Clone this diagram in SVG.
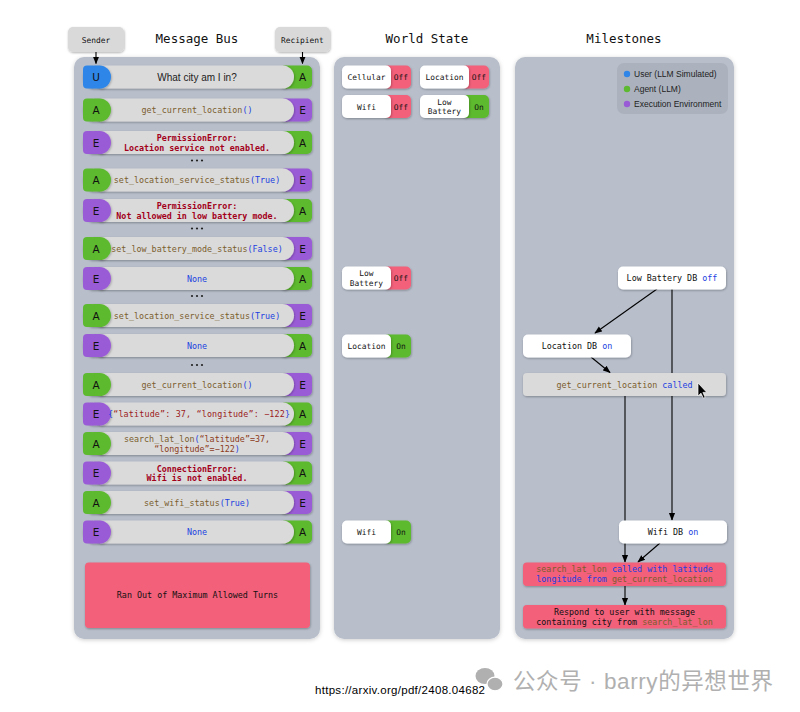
<svg xmlns="http://www.w3.org/2000/svg" width="800" height="712" viewBox="0 0 800 712">
<defs>
<filter id="sh" x="-10%" y="-20%" width="120%" height="150%"><feDropShadow dx="0.5" dy="1" stdDeviation="1" flood-color="#000" flood-opacity="0.3"/></filter>
<filter id="psh" x="-5%" y="-5%" width="110%" height="110%"><feDropShadow dx="0" dy="1" stdDeviation="2" flood-color="#000" flood-opacity="0.2"/></filter>
<marker id="ah" viewBox="0 0 10 10" refX="9" refY="5" markerWidth="7" markerHeight="7" orient="auto-start-reverse"><path d="M0,1 L10,5 L0,9 Z" fill="#000"/></marker>
</defs>
<style>
.mono{font-family:"DejaVu Sans Mono","Liberation Mono",monospace}
.sans{font-family:"Liberation Sans","DejaVu Sans",sans-serif}
.title{font-family:"DejaVu Sans Mono","Liberation Mono",monospace;font-size:12.5px;fill:#111;text-anchor:middle}
.panel{fill:#b8bfcb}
.pill{fill:#dadada}
.cU{fill:#2f86e8}.cA{fill:#5db92f}.cE{fill:#9a5bd6}
.badge{font-family:"DejaVu Sans","Liberation Sans",sans-serif;font-size:10.5px;fill:#111;text-anchor:middle}
.code{font-family:"DejaVu Sans Mono","Liberation Mono",monospace;font-size:8.4px;text-anchor:middle}
.fn{fill:#7b5e2e}.bl{fill:#1b3fe0}.err{fill:#a3001b;font-weight:bold}.dr{fill:#9b1b1b}.ag{fill:#8b3a1a}
.tg{font-family:"DejaVu Sans Mono","Liberation Mono",monospace;font-size:7.9px;fill:#111;text-anchor:middle}
.off{fill:#f2607a}.on{fill:#5db92f}
.ms{font-family:"DejaVu Sans Mono","Liberation Mono",monospace;font-size:8.4px;fill:#111;text-anchor:middle}
.wbox{fill:#fff}
.conn{stroke:#000;stroke-width:1.1;fill:none}
.dot{fill:#222}
</style>
<rect width="800" height="712" fill="#fff"/>

<!-- titles -->
<text class="title" x="197" y="43">Message Bus</text>
<text class="title" x="427" y="43">World State</text>
<text class="title" x="624" y="43">Milestones</text>

<!-- panels -->
<rect class="panel" x="74" y="57" width="246" height="582" rx="10" filter="url(#psh)"/>
<rect class="panel" x="334" y="57" width="166" height="582" rx="10" filter="url(#psh)"/>
<rect class="panel" x="515" y="57" width="219" height="582" rx="10" filter="url(#psh)"/>

<!-- sender / recipient -->
<g id="sender">
<rect x="68" y="27" width="56" height="25" rx="5" fill="#d9d9d9" filter="url(#sh)"/>
<text class="tg" x="96" y="42.5">Sender</text>
</g>
<g id="recipient">
<rect x="275" y="27" width="55" height="25" rx="5" fill="#d9d9d9" filter="url(#sh)"/>
<text class="tg" x="302.5" y="42.5">Recipient</text>
</g>

<!-- message rows -->
<g id="row1" transform="translate(0,65.5)">
<rect class="cA" x="280" y="0" width="32" height="23" rx="5" filter="url(#sh)"/>
<rect class="pill" x="92" y="0" width="202" height="23" rx="11.5" filter="url(#sh)"/>
<rect class="cU" x="83" y="0" width="28" height="23" rx="11.5" filter="url(#sh)"/><rect class="cU" x="83" y="0" width="12" height="23" rx="4"/>
<text class="badge" x="96" y="15.5">U</text><text class="badge" x="302.5" y="15.5">A</text>
<text class="sans" x="197" y="15" font-size="10" fill="#222" text-anchor="middle">What city am I in?</text>
</g>
<g id="row2" transform="translate(0,98.5)">
<rect class="cE" x="280" y="0" width="32" height="23" rx="5" filter="url(#sh)"/>
<rect class="pill" x="92" y="0" width="202" height="23" rx="11.5" filter="url(#sh)"/>
<rect class="cA" x="83" y="0" width="28" height="23" rx="11.5" filter="url(#sh)"/><rect class="cA" x="83" y="0" width="12" height="23" rx="4"/>
<text class="badge" x="96" y="15.5">A</text><text class="badge" x="302.5" y="15.5">E</text>
<text class="code" x="197" y="14.5"><tspan class="fn">get_current_location</tspan><tspan class="bl">()</tspan></text>
</g>
<g id="row3" transform="translate(0,131)">
<rect class="cA" x="280" y="0" width="32" height="23" rx="5" filter="url(#sh)"/>
<rect class="pill" x="92" y="0" width="202" height="23" rx="11.5" filter="url(#sh)"/>
<rect class="cE" x="83" y="0" width="28" height="23" rx="11.5" filter="url(#sh)"/><rect class="cE" x="83" y="0" width="12" height="23" rx="4"/>
<text class="badge" x="96" y="15.5">E</text><text class="badge" x="302.5" y="15.5">A</text>
<text class="code err" x="197" y="10">PermissionError:</text>
<text class="code err" x="197" y="19.5">Location service not enabled.</text>
</g>
<g id="dots1"><circle class="dot" cx="192" cy="160.5" r="1.1"/><circle class="dot" cx="197" cy="160.5" r="1.1"/><circle class="dot" cx="202" cy="160.5" r="1.1"/></g>
<g id="row4" transform="translate(0,168.5)">
<rect class="cE" x="280" y="0" width="32" height="23" rx="5" filter="url(#sh)"/>
<rect class="pill" x="92" y="0" width="202" height="23" rx="11.5" filter="url(#sh)"/>
<rect class="cA" x="83" y="0" width="28" height="23" rx="11.5" filter="url(#sh)"/><rect class="cA" x="83" y="0" width="12" height="23" rx="4"/>
<text class="badge" x="96" y="15.5">A</text><text class="badge" x="302.5" y="15.5">E</text>
<text class="code" x="197" y="14.5"><tspan class="fn">set_location_service_status</tspan><tspan class="bl">(True)</tspan></text>
</g>
<g id="row5" transform="translate(0,199)">
<rect class="cA" x="280" y="0" width="32" height="23" rx="5" filter="url(#sh)"/>
<rect class="pill" x="92" y="0" width="202" height="23" rx="11.5" filter="url(#sh)"/>
<rect class="cE" x="83" y="0" width="28" height="23" rx="11.5" filter="url(#sh)"/><rect class="cE" x="83" y="0" width="12" height="23" rx="4"/>
<text class="badge" x="96" y="15.5">E</text><text class="badge" x="302.5" y="15.5">A</text>
<text class="code err" x="197" y="10">PermissionError:</text>
<text class="code err" x="197" y="19.5">Not allowed in low battery mode.</text>
</g>
<g id="dots2"><circle class="dot" cx="192" cy="228.5" r="1.1"/><circle class="dot" cx="197" cy="228.5" r="1.1"/><circle class="dot" cx="202" cy="228.5" r="1.1"/></g>
<g id="row6" transform="translate(0,237)">
<rect class="cE" x="280" y="0" width="32" height="23" rx="5" filter="url(#sh)"/>
<rect class="pill" x="92" y="0" width="202" height="23" rx="11.5" filter="url(#sh)"/>
<rect class="cA" x="83" y="0" width="28" height="23" rx="11.5" filter="url(#sh)"/><rect class="cA" x="83" y="0" width="12" height="23" rx="4"/>
<text class="badge" x="96" y="15.5">A</text><text class="badge" x="302.5" y="15.5">E</text>
<text class="code" x="197" y="14.5"><tspan class="fn">set_low_battery_mode_status</tspan><tspan class="bl">(False)</tspan></text>
</g>
<g id="row7" transform="translate(0,267)">
<rect class="cA" x="280" y="0" width="32" height="23" rx="5" filter="url(#sh)"/>
<rect class="pill" x="92" y="0" width="202" height="23" rx="11.5" filter="url(#sh)"/>
<rect class="cE" x="83" y="0" width="28" height="23" rx="11.5" filter="url(#sh)"/><rect class="cE" x="83" y="0" width="12" height="23" rx="4"/>
<text class="badge" x="96" y="15.5">E</text><text class="badge" x="302.5" y="15.5">A</text>
<text class="code bl" x="197" y="14.5">None</text>
</g>
<g id="dots3"><circle class="dot" cx="192" cy="296" r="1.1"/><circle class="dot" cx="197" cy="296" r="1.1"/><circle class="dot" cx="202" cy="296" r="1.1"/></g>
<g id="row8" transform="translate(0,304)">
<rect class="cE" x="280" y="0" width="32" height="23" rx="5" filter="url(#sh)"/>
<rect class="pill" x="92" y="0" width="202" height="23" rx="11.5" filter="url(#sh)"/>
<rect class="cA" x="83" y="0" width="28" height="23" rx="11.5" filter="url(#sh)"/><rect class="cA" x="83" y="0" width="12" height="23" rx="4"/>
<text class="badge" x="96" y="15.5">A</text><text class="badge" x="302.5" y="15.5">E</text>
<text class="code" x="197" y="14.5"><tspan class="fn">set_location_service_status</tspan><tspan class="bl">(True)</tspan></text>
</g>
<g id="row9" transform="translate(0,334)">
<rect class="cA" x="280" y="0" width="32" height="23" rx="5" filter="url(#sh)"/>
<rect class="pill" x="92" y="0" width="202" height="23" rx="11.5" filter="url(#sh)"/>
<rect class="cE" x="83" y="0" width="28" height="23" rx="11.5" filter="url(#sh)"/><rect class="cE" x="83" y="0" width="12" height="23" rx="4"/>
<text class="badge" x="96" y="15.5">E</text><text class="badge" x="302.5" y="15.5">A</text>
<text class="code bl" x="197" y="14.5">None</text>
</g>
<g id="dots4"><circle class="dot" cx="192" cy="365" r="1.1"/><circle class="dot" cx="197" cy="365" r="1.1"/><circle class="dot" cx="202" cy="365" r="1.1"/></g>
<g id="row10" transform="translate(0,373)">
<rect class="cE" x="280" y="0" width="32" height="23" rx="5" filter="url(#sh)"/>
<rect class="pill" x="92" y="0" width="202" height="23" rx="11.5" filter="url(#sh)"/>
<rect class="cA" x="83" y="0" width="28" height="23" rx="11.5" filter="url(#sh)"/><rect class="cA" x="83" y="0" width="12" height="23" rx="4"/>
<text class="badge" x="96" y="15.5">A</text><text class="badge" x="302.5" y="15.5">E</text>
<text class="code" x="197" y="14.5"><tspan class="fn">get_current_location</tspan><tspan class="bl">()</tspan></text>
</g>
<g id="row11" transform="translate(0,402.5)">
<rect class="cA" x="280" y="0" width="32" height="23" rx="5" filter="url(#sh)"/>
<rect class="pill" x="92" y="0" width="202" height="23" rx="11.5" filter="url(#sh)"/>
<rect class="cE" x="83" y="0" width="28" height="23" rx="11.5" filter="url(#sh)"/><rect class="cE" x="83" y="0" width="12" height="23" rx="4"/>
<text class="badge" x="96" y="15.5">E</text><text class="badge" x="302.5" y="15.5">A</text>
<text class="code" x="199" y="14.5" textLength="182"><tspan class="bl">{</tspan><tspan class="dr">“latitude”: 37, “longitude”: −122</tspan><tspan class="bl">}</tspan></text>
</g>
<g id="row12" transform="translate(0,432)">
<rect class="cE" x="280" y="0" width="32" height="23" rx="5" filter="url(#sh)"/>
<rect class="pill" x="92" y="0" width="202" height="23" rx="11.5" filter="url(#sh)"/>
<rect class="cA" x="83" y="0" width="28" height="23" rx="11.5" filter="url(#sh)"/><rect class="cA" x="83" y="0" width="12" height="23" rx="4"/>
<text class="badge" x="96" y="15.5">A</text><text class="badge" x="302.5" y="15.5">E</text>
<text class="code" x="197" y="10"><tspan class="fn">search_lat_lon</tspan><tspan class="bl">(</tspan><tspan class="ag">“latitude”=37,</tspan></text>
<text class="code" x="197" y="19.5"><tspan class="ag">“longitude”=−122</tspan><tspan class="bl">)</tspan></text>
</g>
<g id="row13" transform="translate(0,461.5)">
<rect class="cA" x="280" y="0" width="32" height="23" rx="5" filter="url(#sh)"/>
<rect class="pill" x="92" y="0" width="202" height="23" rx="11.5" filter="url(#sh)"/>
<rect class="cE" x="83" y="0" width="28" height="23" rx="11.5" filter="url(#sh)"/><rect class="cE" x="83" y="0" width="12" height="23" rx="4"/>
<text class="badge" x="96" y="15.5">E</text><text class="badge" x="302.5" y="15.5">A</text>
<text class="code err" x="197" y="10">ConnectionError:</text>
<text class="code err" x="197" y="19.5">Wifi is not enabled.</text>
</g>
<g id="row14" transform="translate(0,491)">
<rect class="cE" x="280" y="0" width="32" height="23" rx="5" filter="url(#sh)"/>
<rect class="pill" x="92" y="0" width="202" height="23" rx="11.5" filter="url(#sh)"/>
<rect class="cA" x="83" y="0" width="28" height="23" rx="11.5" filter="url(#sh)"/><rect class="cA" x="83" y="0" width="12" height="23" rx="4"/>
<text class="badge" x="96" y="15.5">A</text><text class="badge" x="302.5" y="15.5">E</text>
<text class="code" x="197" y="14.5"><tspan class="fn">set_wifi_status</tspan><tspan class="bl">(True)</tspan></text>
</g>
<g id="row15" transform="translate(0,520.5)">
<rect class="cA" x="280" y="0" width="32" height="23" rx="5" filter="url(#sh)"/>
<rect class="pill" x="92" y="0" width="202" height="23" rx="11.5" filter="url(#sh)"/>
<rect class="cE" x="83" y="0" width="28" height="23" rx="11.5" filter="url(#sh)"/><rect class="cE" x="83" y="0" width="12" height="23" rx="4"/>
<text class="badge" x="96" y="15.5">E</text><text class="badge" x="302.5" y="15.5">A</text>
<text class="code bl" x="197" y="14.5">None</text>
</g>
<g id="out-of-turns">
<rect x="85" y="562.5" width="225" height="65.5" rx="4" fill="#f2607a" filter="url(#sh)"/>
<text class="ms" x="197.5" y="598">Ran Out of Maximum Allowed Turns</text>
</g>

<!-- world state toggles -->
<g id="ws-cellular">
<rect class="off" x="383" y="65.5" width="28" height="23" rx="5" filter="url(#sh)"/>
<rect class="wbox" x="342" y="65.5" width="49" height="23" rx="5" filter="url(#sh)"/>
<text class="tg" x="366.5" y="80">Cellular</text><text class="tg" x="401" y="80">Off</text>
</g>
<g id="ws-location-off">
<rect class="off" x="461" y="65.5" width="28" height="23" rx="5" filter="url(#sh)"/>
<rect class="wbox" x="420" y="65.5" width="49" height="23" rx="5" filter="url(#sh)"/>
<text class="tg" x="444.5" y="80">Location</text><text class="tg" x="479" y="80">Off</text>
</g>
<g id="ws-wifi-off">
<rect class="off" x="383" y="95" width="28" height="23" rx="5" filter="url(#sh)"/>
<rect class="wbox" x="342" y="95" width="49" height="23" rx="5" filter="url(#sh)"/>
<text class="tg" x="366.5" y="109.5">Wifi</text><text class="tg" x="401" y="109.5">Off</text>
</g>
<g id="ws-lowbattery-on">
<rect class="on" x="461" y="95" width="28" height="23" rx="5" filter="url(#sh)"/>
<rect class="wbox" x="420" y="95" width="49" height="23" rx="5" filter="url(#sh)"/>
<text class="tg" x="444.5" y="104.5">Low</text><text class="tg" x="444.5" y="114">Battery</text><text class="tg" x="479" y="109.5">On</text>
</g>
<g id="ws-lowbattery-off">
<rect class="off" x="383" y="266.5" width="28" height="23" rx="5" filter="url(#sh)"/>
<rect class="wbox" x="342" y="266.5" width="49" height="23" rx="5" filter="url(#sh)"/>
<text class="tg" x="366.5" y="276">Low</text><text class="tg" x="366.5" y="285.5">Battery</text><text class="tg" x="401" y="281">Off</text>
</g>
<g id="ws-location-on">
<rect class="on" x="383" y="334.5" width="28" height="23" rx="5" filter="url(#sh)"/>
<rect class="wbox" x="342" y="334.5" width="49" height="23" rx="5" filter="url(#sh)"/>
<text class="tg" x="366.5" y="349">Location</text><text class="tg" x="401" y="349">On</text>
</g>
<g id="ws-wifi-on">
<rect class="on" x="383" y="520.5" width="28" height="23" rx="5" filter="url(#sh)"/>
<rect class="wbox" x="342" y="520.5" width="49" height="23" rx="5" filter="url(#sh)"/>
<text class="tg" x="366.5" y="535">Wifi</text><text class="tg" x="401" y="535">On</text>
</g>

<!-- legend -->
<g id="legend">
<rect x="617" y="63" width="111" height="51" rx="7" fill="#abb2be"/>
<circle cx="627" cy="74" r="3.2" class="cU"/>
<circle cx="627" cy="89" r="3.2" class="cA"/>
<circle cx="627" cy="104" r="3.2" class="cE"/>
<text class="sans" x="634" y="77" font-size="8.5" fill="#222">User (LLM Simulated)</text>
<text class="sans" x="634" y="92" font-size="8.5" fill="#222">Agent (LLM)</text>
<text class="sans" x="634" y="107" font-size="8.5" fill="#222">Execution Environment</text>
</g>

<!-- connectors -->
<g id="connectors">
<line class="conn" x1="657" y1="289" x2="595" y2="333" marker-end="url(#ah)"/>
<line class="conn" x1="672" y1="289" x2="672" y2="520" marker-end="url(#ah)"/>
<line class="conn" x1="591" y1="357" x2="610" y2="372.5" marker-end="url(#ah)"/>
<line class="conn" x1="625" y1="396" x2="625" y2="562" marker-end="url(#ah)"/>
<line class="conn" x1="660" y1="543" x2="638" y2="562" marker-end="url(#ah)"/>
<line class="conn" x1="625" y1="586" x2="625" y2="605" marker-end="url(#ah)"/>
</g>

<!-- milestone nodes -->
<g id="ms-lowbattery">
<rect class="wbox" x="618" y="266.5" width="108" height="23" rx="5" filter="url(#sh)"/>
<text class="ms" x="672" y="281">Low Battery DB <tspan class="bl">off</tspan></text>
</g>
<g id="ms-location">
<rect class="wbox" x="523" y="334.5" width="108" height="23" rx="5" filter="url(#sh)"/>
<text class="ms" x="577" y="349">Location DB <tspan class="bl">on</tspan></text>
</g>
<g id="ms-getloc">
<rect x="523" y="373" width="203" height="23" rx="4" fill="#dadada" filter="url(#sh)"/>
<text class="ms" x="624.5" y="387.5"><tspan class="fn">get_current_location</tspan><tspan class="bl"> called</tspan></text>
<path d="M698,383 L698,396 L701,393.2 L703.3,398.2 L705.2,397.4 L702.9,392.4 L706.8,392.4 Z" fill="#000" stroke="#fff" stroke-width="0.7"/>
</g>
<g id="ms-wifi">
<rect class="wbox" x="619" y="520.5" width="108" height="23" rx="5" filter="url(#sh)"/>
<text class="ms" x="673" y="535">Wifi DB <tspan class="bl">on</tspan></text>
</g>
<g id="ms-search">
<rect x="523" y="562.5" width="203" height="23.5" rx="4" fill="#f2607a" filter="url(#sh)"/>
<text class="ms" x="624.5" y="572"><tspan class="fn">search_lat_lon</tspan><tspan class="bl"> called with latitude</tspan></text>
<text class="ms" x="624.5" y="582"><tspan class="bl">longitude from </tspan><tspan class="fn">get_current_location</tspan></text>
</g>
<g id="ms-respond">
<rect x="523" y="605" width="203" height="23.5" rx="4" fill="#f2607a" filter="url(#sh)"/>
<text class="ms" x="624.5" y="614.5">Respond to user with message</text>
<text class="ms" x="624.5" y="624.5">containing city from <tspan class="fn">search_lat_lon</tspan></text>
</g>

<!-- sender/recipient arrows -->
<g id="sr-arrows">
<line class="conn" x1="96" y1="52" x2="96" y2="63.5" marker-end="url(#ah)"/>
<line class="conn" x1="302.5" y1="52" x2="302.5" y2="63.5" marker-end="url(#ah)"/>
</g>

<!-- footer -->
<text class="sans" x="315" y="694" font-size="11.5" fill="#000" textLength="170">https://arxiv.org/pdf/2408.04682</text>
<g id="watermark" fill="#b0b0b0">
<ellipse cx="485" cy="676" rx="9.5" ry="8"/>
<ellipse cx="495" cy="684" rx="8" ry="6.8" stroke="#fff" stroke-width="1.2"/>
<text x="513" y="689" font-size="22.5" textLength="260" style="font-family:'Liberation Sans','Noto Sans CJK SC',sans-serif">公众号 · barry的异想世界</text>
</g>
</svg>
